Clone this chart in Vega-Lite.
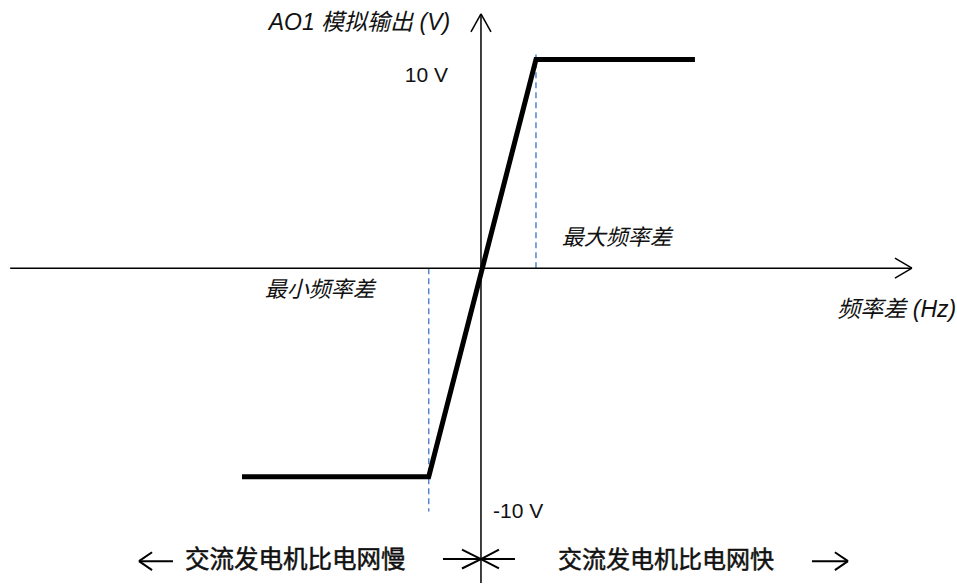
{
  "$schema": "https://vega.github.io/schema/vega-lite/v6.json",
  "width": 957,
  "height": 584,
  "autosize": {"type": "fit", "contains": "padding"},
  "padding": 0,
  "background": "white",
  "config": {"view": {"stroke": null}},
  "datasets": {
    "segments": [
      {"part": "x-axis", "x": -8.56, "y": 0, "x2": 7.836, "y2": 0},
      {"part": "x-arrow", "x": 7.836, "y": 0, "x2": 7.527, "y2": 0.476},
      {"part": "x-arrow", "x": 7.836, "y": 0, "x2": 7.527, "y2": -0.476},
      {"part": "y-axis", "x": 0, "y": 12.19, "x2": 0, "y2": -15.1},
      {"part": "y-arrow", "x": 0, "y": 12.19, "x2": -0.182, "y2": 11.33},
      {"part": "y-arrow", "x": 0, "y": 12.19, "x2": 0.182, "y2": 11.33},
      {"part": "meet", "x": -0.691, "y": -13.95, "x2": 0.618, "y2": -13.95},
      {"part": "meet", "x": 0, "y": -13.95, "x2": -0.345, "y2": -13.5},
      {"part": "meet", "x": 0, "y": -13.95, "x2": -0.345, "y2": -14.4},
      {"part": "meet", "x": 0, "y": -13.95, "x2": 0.327, "y2": -13.5},
      {"part": "meet", "x": 0, "y": -13.95, "x2": 0.327, "y2": -14.4},
      {"part": "slow", "x": -6.218, "y": -14.05, "x2": -5.6, "y2": -14.05},
      {"part": "slow", "x": -6.218, "y": -14.05, "x2": -5.98, "y2": -13.62},
      {"part": "slow", "x": -6.218, "y": -14.05, "x2": -5.98, "y2": -14.48},
      {"part": "fast", "x": 6.018, "y": -14.05, "x2": 6.673, "y2": -14.05},
      {"part": "fast", "x": 6.673, "y": -14.05, "x2": 6.435, "y2": -13.62},
      {"part": "fast", "x": 6.673, "y": -14.05, "x2": 6.435, "y2": -14.48}
    ],
    "limits": [
      {"name": "最大频率差", "x": 1.0, "y": 0, "y2": 10.24},
      {"name": "最小频率差", "x": -0.95, "y": 0, "y2": -11.67}
    ],
    "output": [
      {"step": 1, "hz": -4.345, "volt": -10},
      {"step": 2, "hz": -0.95, "volt": -10},
      {"step": 3, "hz": 1.0, "volt": 10},
      {"step": 4, "hz": 3.89, "volt": 10}
    ],
    "labels": [
      {"text": "AO1 模拟输出 (V)", "x": -0.56, "y": 11.76, "group": "italic-right", "size": 23},
      {"text": "频率差 (Hz)", "x": 8.64, "y": -2.0, "group": "italic-right", "size": 23},
      {"text": "最大频率差", "x": 1.47, "y": 1.43, "group": "italic-left", "size": 22},
      {"text": "最小频率差", "x": -3.93, "y": -1.05, "group": "italic-left", "size": 22},
      {"text": "10 V", "x": -0.6, "y": 9.19, "group": "plain-right", "size": 21},
      {"text": "-10 V", "x": 0.218, "y": -11.67, "group": "plain-left", "size": 21},
      {"text": "交流发电机比电网慢", "x": -5.38, "y": -14.05, "group": "side", "size": 24.5},
      {"text": "交流发电机比电网快", "x": 1.4, "y": -14.05, "group": "side", "size": 24}
    ]
  },
  "encoding": {},
  "layer": [
    {
      "data": {"name": "limits"},
      "mark": {"type": "rule", "color": "#5585cc", "strokeWidth": 1.5, "strokeDash": [6, 4]},
      "encoding": {
        "x": {"field": "x", "type": "quantitative", "scale": {"domain": [-8.745, 8.655], "nice": false, "zero": false}, "axis": null},
        "y": {"field": "y", "type": "quantitative", "scale": {"domain": [-14.952, 12.857], "nice": false, "zero": false}, "axis": null},
        "y2": {"field": "y2"}
      }
    },
    {
      "data": {"name": "segments"},
      "transform": [{"filter": "indexof(['x-axis', 'x-arrow', 'y-axis', 'y-arrow'], datum.part) >= 0"}],
      "mark": {"type": "rule", "color": "black", "strokeWidth": 1.5, "strokeCap": "butt"},
      "encoding": {
        "x": {"field": "x", "type": "quantitative"},
        "y": {"field": "y", "type": "quantitative"},
        "x2": {"field": "x2"},
        "y2": {"field": "y2"}
      }
    },
    {
      "data": {"name": "segments"},
      "transform": [{"filter": "indexof(['meet', 'slow', 'fast'], datum.part) >= 0"}],
      "mark": {"type": "rule", "color": "black", "strokeWidth": 2, "strokeCap": "butt"},
      "encoding": {
        "x": {"field": "x", "type": "quantitative"},
        "y": {"field": "y", "type": "quantitative"},
        "x2": {"field": "x2"},
        "y2": {"field": "y2"}
      }
    },
    {
      "data": {"name": "output"},
      "mark": {"type": "line", "color": "black", "strokeWidth": 5, "strokeJoin": "miter", "strokeCap": "butt"},
      "encoding": {
        "x": {"field": "hz", "type": "quantitative"},
        "y": {"field": "volt", "type": "quantitative"},
        "order": {"field": "step", "type": "ordinal"}
      }
    },
    {
      "data": {"name": "labels"},
      "transform": [{"filter": "datum.group === 'italic-right'"}],
      "mark": {"type": "text", "baseline": "middle", "align": "right", "fontStyle": "italic", "font": "Liberation Sans, Noto Sans CJK SC", "color": "#111111"},
      "encoding": {
        "x": {"field": "x", "type": "quantitative"},
        "y": {"field": "y", "type": "quantitative"},
        "text": {"field": "text"},
        "size": {"field": "size", "type": "quantitative", "scale": null}
      }
    },
    {
      "data": {"name": "labels"},
      "transform": [{"filter": "datum.group === 'italic-left'"}],
      "mark": {"type": "text", "baseline": "middle", "align": "left", "fontStyle": "italic", "font": "Liberation Sans, Noto Sans CJK SC", "color": "#111111"},
      "encoding": {
        "x": {"field": "x", "type": "quantitative"},
        "y": {"field": "y", "type": "quantitative"},
        "text": {"field": "text"},
        "size": {"field": "size", "type": "quantitative", "scale": null}
      }
    },
    {
      "data": {"name": "labels"},
      "transform": [{"filter": "datum.group === 'plain-right'"}],
      "mark": {"type": "text", "baseline": "middle", "align": "right", "font": "Liberation Sans, Noto Sans CJK SC", "color": "#111111"},
      "encoding": {
        "x": {"field": "x", "type": "quantitative"},
        "y": {"field": "y", "type": "quantitative"},
        "text": {"field": "text"},
        "size": {"field": "size", "type": "quantitative", "scale": null}
      }
    },
    {
      "data": {"name": "labels"},
      "transform": [{"filter": "datum.group === 'plain-left'"}],
      "mark": {"type": "text", "baseline": "middle", "align": "left", "font": "Liberation Sans, Noto Sans CJK SC", "color": "#111111"},
      "encoding": {
        "x": {"field": "x", "type": "quantitative"},
        "y": {"field": "y", "type": "quantitative"},
        "text": {"field": "text"},
        "size": {"field": "size", "type": "quantitative", "scale": null}
      }
    },
    {
      "data": {"name": "labels"},
      "transform": [{"filter": "datum.group === 'side'"}],
      "mark": {"type": "text", "baseline": "middle", "align": "left", "fontWeight": "normal", "font": "Noto Sans CJK SC", "color": "#111111", "stroke": "#111111", "strokeWidth": 0.5},
      "encoding": {
        "x": {"field": "x", "type": "quantitative"},
        "y": {"field": "y", "type": "quantitative"},
        "text": {"field": "text"},
        "size": {"field": "size", "type": "quantitative", "scale": null}
      }
    }
  ]
}
